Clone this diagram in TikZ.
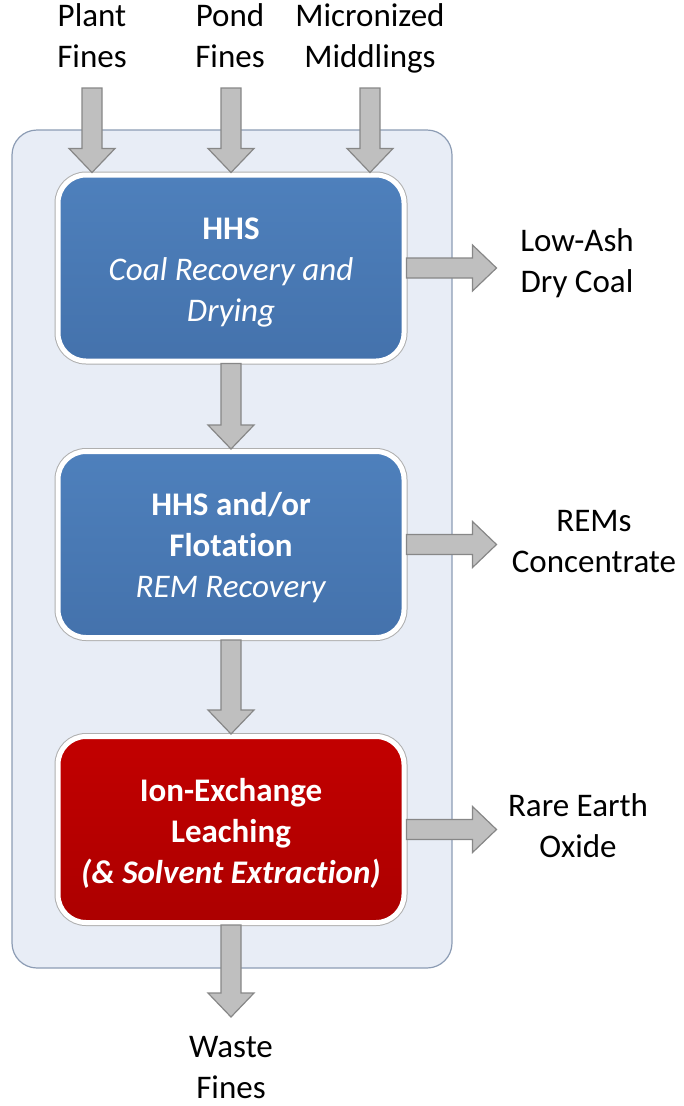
\documentclass[tikz,border=0pt]{standalone}
\usepackage{fontspec}
\setmainfont{Carlito}[Ligatures=NoCommon]
\usetikzlibrary{calc}
\definecolor{panelfill}{RGB}{232,237,246}
\definecolor{paneledge}{RGB}{140,156,180}
\definecolor{bluetop}{RGB}{78,128,188}
\definecolor{bluebot}{RGB}{68,114,172}
\definecolor{redtop}{RGB}{194,0,0}
\definecolor{redbot}{RGB}{172,0,0}
\definecolor{arrowfill}{RGB}{191,191,191}
\definecolor{arrowedge}{RGB}{135,135,135}
\definecolor{ringgray}{RGB}{175,175,175}
\newcommand{\tallstrut}{\rule{0pt}{30pt}}
\newcommand{\vblk}[2]{%
  \draw[blk] ($#1+(-10pt,0pt)$) -- ($#2+(-10pt,24pt)$) -- ($#2+(-23pt,24pt)$) -- #2
    -- ($#2+(23pt,24pt)$) -- ($#2+(10pt,24pt)$) -- ($#1+(10pt,0pt)$) -- cycle;}
\newcommand{\hblk}[2]{%
  \draw[blk] ($#1+(0pt,-10pt)$) -- ($#2+(-24pt,-10pt)$) -- ($#2+(-24pt,-23pt)$) -- #2
    -- ($#2+(-24pt,23pt)$) -- ($#2+(-24pt,10pt)$) -- ($#1+(0pt,10pt)$) -- cycle;}
\begin{document}
\begin{tikzpicture}[x=1pt,y=1pt,
  txt/.style={align=center, font=\fontsize{33}{41}\selectfont, inner sep=0pt},
  lbl/.style={txt, text=black, execute at begin node=\strut, execute at end node=\strut},
  proc/.style={txt, text=white, rounded corners=28pt, minimum width=346pt, minimum height=186pt,
    draw=white, line width=5pt, preaction={draw=ringgray, line width=7pt}},
  blueproc/.style={proc, top color=bluetop, bottom color=bluebot},
  redproc/.style={proc, top color=redtop, bottom color=redbot},
  blk/.style={fill=arrowfill, draw=arrowedge, line width=1.2pt, line join=miter}]
\useasboundingbox (0,0) rectangle (683,-1106);
% background panel
\node (panel) [draw=paneledge, fill=panelfill, line width=1.2pt, rounded corners=25pt,
  minimum width=440pt, minimum height=838pt, inner sep=0pt] at (232,-549) {};
% process boxes
\node (b1) [blueproc] at (231,-268) {\tallstrut\textbf{HHS}\\\textit{Coal Recovery and}\\\textit{Drying}};
\node (b2) [blueproc] at (231,-544.5) {\tallstrut\textbf{HHS and/or}\\\textbf{Flotation}\\\textit{REM Recovery}};
\node (b3) [redproc] at (231,-829.5) {\tallstrut\textbf{Ion-Exchange}\\\textbf{Leaching}\\\textbf{\textit{(\& Solvent Extraction)}}};
% labels
\node (plant) [lbl] at (92,-42) {Plant\\Fines};
\node (pond) [lbl] at (230,-42) {Pond\\Fines};
\node (micro) [lbl] at (370,-42) {Micronized\\Middlings};
\node (lowash) [lbl] at (577,-267) {Low-Ash\\Dry Coal};
\node (rems) [lbl] at (594,-548) {REMs\\Concentrate};
\node (reo) [lbl] at (578,-832) {Rare Earth\\Oxide};
\node (waste) [lbl] at (231,-1074) {Waste\\Fines};
% connector end points
\coordinate (i1) at (92,-88);
\coordinate (i2) at (231,-88);
\coordinate (i3) at (370,-88);
\path (i1 |- b1.north) coordinate (e1);
\path (i2 |- b1.north) coordinate (e2);
\path (i3 |- b1.north) coordinate (e3);
\path (b1.east) ++(90,0) coordinate (o1);
\path (b2.east) ++(90,0) coordinate (o2);
\path (b3.east) ++(90,0) coordinate (o3);
\path (b3.south) ++(0,-92) coordinate (w);
% arrows
\vblk{(i1)}{(e1)}
\vblk{(i2)}{(e2)}
\vblk{(i3)}{(e3)}
\vblk{(b1.south)}{(b2.north)}
\vblk{(b2.south)}{(b3.north)}
\vblk{(b3.south)}{(w)}
\hblk{(b1.east)}{(o1)}
\hblk{(b2.east)}{(o2)}
\hblk{(b3.east)}{(o3)}
\end{tikzpicture}
\end{document}
